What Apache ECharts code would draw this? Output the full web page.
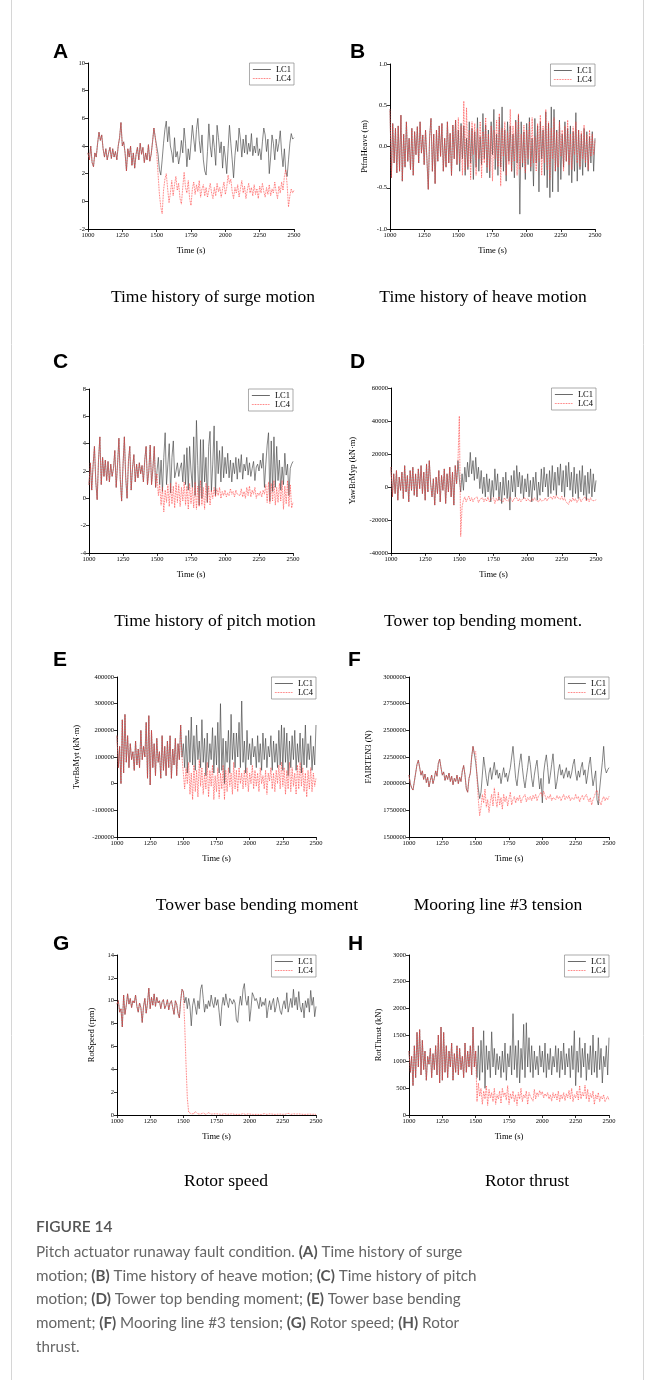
<!DOCTYPE html>
<html><head><meta charset="utf-8">
<script src="https://cdn.jsdelivr.net/npm/echarts@6/dist/echarts.min.js"></script>
<style>html,body{margin:0;padding:0;background:#fff}#c{width:656px;height:1380px}</style>
</head><body><div id="c"></div>
<script>
// ---------------- DATA ----------------
const TIME_START = 1000, FAULT_TIME = 1500, STEP = 10;
const xTicks = [1000, 1250, 1500, 1750, 2000, 2250, 2500];
const seriesNames = ['LC1', 'LC4'];

// (A) surge (m)  — before fault both cases identical
const surgePre = [3.5,3.0,4.0,2.8,2.5,3.5,3.2,4.2,5.0,4.4,4.8,3.8,3.2,3.8,3.0,3.5,3.9,3.1,3.8,3.2,3.6,3.0,4.0,4.6,5.7,4.0,4.3,3.5,2.2,3.8,3.2,4.0,2.6,3.5,2.4,3.4,3.9,3.0,4.2,3.4,3.9,2.8,3.5,3.0,4.1,2.9,3.4,4.3,5.3,4.6];
const surgeLC1 = [4.5,3.4,2.3,1.9,3.0,4.2,5.2,5.8,4.3,5.4,4.0,3.5,2.8,4.6,3.2,3.6,2.7,3.3,4.4,3.5,5.3,4.2,2.5,3.8,3.0,4.2,5.5,4.5,3.6,5.2,6.0,4.4,3.5,4.8,3.0,2.2,1.9,3.6,5.6,4.0,3.2,4.8,3.9,2.6,5.5,4.6,3.5,4.3,2.4,4.0,3.2,2.0,3.8,5.5,4.2,3.0,1.7,3.3,4.4,3.6,5.3,4.5,3.2,4.5,3.5,4.8,3.4,4.2,3.6,4.9,3.3,4.0,3.5,4.6,3.3,3.8,3.0,4.3,5.3,4.8,3.6,4.5,2.0,3.2,4.8,4.2,3.0,4.5,3.6,4.2,5.1,3.5,2.5,3.8,2.2,1.8,3.0,4.2,4.9,4.5,4.6];
const surgeLC4 = [3.5,2.0,0.5,-0.4,-0.9,0.8,1.6,2.0,0.9,-0.1,0.6,1.5,0.4,1.2,1.8,0.8,1.3,0.2,-0.2,1.0,2.1,1.0,0.6,1.5,0.2,-0.3,0.9,1.4,0.5,1.2,0.7,1.5,0.3,0.9,1.2,0.4,1.0,0.3,0.8,1.3,0.6,0.2,1.0,0.4,1.3,0.7,1.0,0.3,0.9,1.4,0.5,1.0,1.9,1.3,1.6,0.7,0.2,1.0,0.6,1.2,0.3,0.9,1.5,0.6,1.1,0.2,0.8,1.3,0.6,1.0,0.4,1.2,0.5,0.9,0.2,1.1,0.6,1.3,0.7,0.3,1.0,0.5,1.2,0.4,0.9,0.6,1.4,0.7,0.2,1.1,0.6,1.4,0.8,1.8,2.3,1.2,-0.4,0.4,0.9,0.6,0.8];

// (B) heave (m)
const heavePre = [0.45,-0.38,0.28,-0.2,0.22,-0.32,0.25,-0.3,0.38,-0.42,0.15,-0.25,0.3,-0.18,0.1,-0.28,0.22,-0.35,0.18,-0.1,0.24,-0.2,0.3,-0.08,0.14,-0.22,0.2,-0.15,-0.52,0.12,0.34,-0.3,0.15,-0.45,0.2,-0.18,0.25,-0.12,0.28,-0.3,0.1,-0.25,0.3,-0.2,0.16,-0.35,0.26,-0.15,0.32,-0.22];
const heaveLC1 = [0.2,-0.3,0.28,-0.15,0.25,-0.35,0.1,-0.28,0.3,-0.2,0.22,-0.4,0.18,-0.25,0.35,-0.3,0.12,-0.22,0.4,-0.15,0.26,-0.32,0.2,-0.38,0.3,-0.1,0.45,-0.28,0.15,-0.35,0.36,-0.25,0.48,-0.3,0.2,-0.42,0.3,-0.18,0.25,-0.3,0.15,-0.38,0.32,-0.2,0.38,-0.82,0.3,-0.25,0.18,-0.4,0.28,-0.22,0.35,-0.3,0.1,-0.48,0.34,-0.2,0.25,-0.55,0.3,-0.15,0.2,-0.35,0.42,-0.5,0.28,-0.62,0.48,-0.55,0.45,-0.3,0.2,-0.55,0.32,-0.4,0.15,-0.25,0.3,-0.18,0.22,-0.35,0.25,-0.44,0.18,-0.3,0.41,-0.42,0.2,-0.28,0.15,-0.35,0.22,-0.25,0.18,-0.3,0.12,-0.2,0.18,-0.3,0.1];
const heaveLC4 = [0.35,-0.2,0.25,-0.35,0.55,-0.3,0.47,-0.25,0.2,-0.4,0.3,-0.1,0.28,-0.35,0.22,-0.15,0.3,-0.38,0.18,-0.2,0.35,-0.25,0.15,-0.3,0.25,-0.42,0.2,-0.15,0.32,-0.25,0.4,-0.48,0.22,-0.12,0.3,-0.35,0.18,-0.22,0.45,-0.3,0.25,-0.18,0.3,-0.35,0.4,-0.28,0.15,-0.2,0.26,-0.32,0.2,-0.15,0.3,-0.25,0.35,-0.2,0.12,-0.3,0.28,-0.18,0.38,-0.35,0.25,-0.2,0.45,-0.28,0.3,-0.4,0.22,-0.15,0.35,-0.3,0.18,-0.25,0.3,-0.12,0.2,-0.3,0.25,-0.18,0.32,-0.22,0.15,-0.28,0.24,-0.1,0.3,-0.2,0.2,-0.25,0.18,-0.15,0.26,-0.2,0.14,-0.28,0.2,-0.12,0.15,-0.1,0.08];

// (C) pitch (deg)
const pitchPre = [1.0,2.6,0.6,2.4,3.8,1.2,-0.1,2.8,4.5,1.0,3.0,1.6,2.8,1.3,2.7,1.2,2.5,1.6,2.2,3.5,0.8,2.5,4.4,1.4,-0.2,2.4,4.5,1.5,0.0,2.7,3.8,0.6,2.2,3.2,1.2,2.5,1.5,2.6,1.8,2.4,1.2,2.8,3.8,1.0,2.0,3.9,1.0,2.2,3.8,0.8];
const pitchLC1 = [2.0,3.0,1.0,2.8,0.5,3.0,4.8,1.0,2.5,4.0,0.4,3.0,4.2,1.5,2.0,2.6,1.6,2.2,2.6,1.2,3.2,1.0,3.7,0.6,3.8,2.0,0.8,4.5,0.2,5.7,2.4,-0.5,4.3,0.0,4.3,1.2,3.0,-0.3,3.8,4.9,0.5,2.5,5.3,0.2,4.2,1.8,3.5,1.2,3.8,1.5,3.0,1.8,3.3,1.5,2.8,1.2,2.6,1.8,3.0,1.4,2.9,1.9,3.2,1.4,2.5,2.0,3.0,1.7,2.6,1.6,2.2,2.7,1.3,2.3,2.5,2.0,2.8,2.2,3.3,0.8,2.5,3.9,4.8,-0.2,4.2,0.5,4.5,0.8,3.8,1.3,2.8,0.6,2.3,1.0,3.3,1.7,2.5,0.2,2.2,2.5,2.7];
const pitchLC4 = [1.8,0.2,1.0,-0.5,0.8,-1.0,0.6,-0.3,1.0,-0.6,1.1,-0.4,0.9,-0.7,1.2,-0.3,1.0,-0.6,0.8,-0.2,1.2,-0.5,0.9,-0.8,1.1,-0.4,0.8,-0.7,1.2,-0.8,0.9,-0.6,1.3,-0.5,0.8,-0.8,1.1,-0.3,0.9,-0.5,0.6,0.0,0.8,0.1,0.7,0.2,0.8,0.0,0.5,0.2,0.6,0.1,0.4,0.2,0.7,0.3,0.5,0.1,0.6,0.3,0.4,0.2,0.7,0.1,0.5,0.0,0.8,0.2,0.9,0.1,0.6,0.3,0.8,0.0,0.4,0.2,0.5,0.1,0.6,0.3,1.0,-0.3,1.2,-0.4,1.1,-0.2,1.3,-0.5,0.8,-0.3,1.1,-0.2,1.3,-0.8,0.9,-0.4,1.3,-0.6,1.0,-0.7,-0.3];

// (D) YawBrMyp (kN·m)
const yawPre = [12000,-6000,8000,-4000,10000,-8000,6000,-2000,9000,-7000,13000,-3000,7000,-9000,10000,-2000,12000,-5000,8000,-6000,11000,-1000,13000,-4000,9000,-8000,14000,-3000,16000,2000,-6000,5000,-11000,6000,-4000,10000,-9000,7000,-2000,11000,-10000,8000,-3000,12000,-6000,9000,-11000,13000,2000,16000];
const yawLC1 = [5000,-3000,8000,-2000,12000,3000,15000,6000,21000,8000,16000,4000,18000,5000,12000,-1000,10000,-4000,6000,-6000,8000,-3000,5000,-9000,4000,-6000,11000,-2000,8000,-8000,3000,-10000,6000,-5000,9000,-7000,4000,-14000,7000,-3000,10000,-6000,13000,0,9000,-4000,7000,-7000,5000,-3000,8000,-6000,4000,-9000,6000,-2000,9000,-8000,3000,-5000,11000,-3000,12000,0,8000,-6000,10000,-4000,13000,-2000,9000,-5000,12000,1000,14000,-3000,10000,-6000,13000,0,15000,-2000,9000,-6000,12000,-4000,8000,-7000,10000,-3000,13000,-5000,7000,-8000,9000,-4000,11000,-6000,8000,-3000,4000];
const yawLC4 = [43000,-30000,-12000,-8000,-6000,-9000,-7000,-5500,-8500,-6500,-9000,-7000,-8000,-6000,-9500,-7500,-8000,-6500,-9000,-7000,-8500,-6000,-9000,-7500,-8000,-6500,-10000,-7000,-8500,-6000,-8000,-7500,-9000,-6500,-8000,-7000,-8500,-6000,-7500,-9000,-7000,-8000,-6500,-8500,-7000,-9000,-7500,-8000,-6500,-8500,-7000,-8000,-9000,-7000,-8500,-6500,-8000,-7500,-9000,-7000,-8500,-7500,-8000,-6500,-8500,-7000,-8000,-6000,-7500,-5500,-7000,-5000,-6500,-6000,-7500,-5500,-8000,-6500,-9000,-8000,-10500,-7500,-9000,-6500,-8500,-7000,-9500,-8000,-6500,-9000,-7500,-8000,-6000,-8500,-7000,-9000,-6500,-8000,-7000,-8500,-7500];

// (E) TwrBsMyt (kN·m)
const twrPre = [180000,60000,140000,0,240000,40000,260000,80000,180000,60000,150000,90000,120000,50000,160000,70000,130000,60000,200000,90000,140000,100000,230000,20000,255000,-5000,200000,60000,150000,30000,170000,80000,120000,20000,180000,50000,140000,30000,160000,60000,180000,20000,130000,70000,170000,30000,150000,90000,220000,100000];
const twrLC1 = [150000,60000,180000,40000,200000,80000,250000,70000,180000,50000,220000,90000,160000,60000,240000,80000,170000,30000,190000,60000,150000,90000,210000,40000,180000,70000,230000,40000,300000,50000,170000,0,160000,80000,200000,40000,260000,90000,190000,60000,190000,100000,230000,60000,310000,80000,160000,40000,200000,90000,150000,70000,170000,100000,140000,60000,180000,80000,150000,50000,190000,90000,170000,60000,140000,100000,180000,50000,160000,80000,150000,60000,200000,70000,220000,50000,210000,80000,190000,30000,160000,60000,180000,90000,200000,50000,150000,80000,190000,40000,170000,70000,220000,60000,150000,90000,180000,50000,140000,70000,220000];
const twrLC4 = [100000,-20000,60000,0,80000,-40000,40000,-60000,70000,-30000,50000,-50000,90000,-10000,60000,-40000,40000,-20000,80000,-50000,50000,-10000,70000,-60000,30000,-30000,60000,-55000,40000,-20000,70000,-60000,50000,-30000,60000,-10000,40000,-40000,80000,-20000,50000,-30000,60000,0,40000,-20000,50000,-10000,60000,-30000,40000,0,70000,-20000,50000,-10000,40000,-30000,60000,0,30000,-20000,50000,-40000,40000,10000,60000,-20000,40000,-30000,50000,0,70000,-20000,80000,-10000,60000,-40000,50000,-20000,80000,-30000,60000,-10000,40000,-40000,70000,-20000,80000,-10000,60000,-30000,40000,-50000,50000,-20000,60000,-30000,40000,-10000,20000];

// (F) FAIRTEN3 (N)
const fairPre = [2080000,2000000,1960000,1940000,2020000,2100000,2180000,2220000,2150000,2080000,2120000,2040000,2090000,2010000,2060000,1970000,2030000,2080000,2000000,2050000,2120000,2070000,2190000,2230000,2150000,2080000,2110000,2030000,2080000,2040000,2100000,2020000,2070000,1990000,2050000,2020000,2080000,2000000,2060000,2020000,2120000,2170000,2080000,1950000,1920000,2050000,2100000,2250000,2350000,2280000];
const fairLC1 = [2200000,2080000,1950000,1860000,1920000,2080000,2250000,2150000,2050000,1980000,2100000,2150000,2040000,2120000,2200000,2080000,2130000,2050000,2100000,2000000,2080000,2150000,2060000,2100000,2020000,2090000,2150000,2250000,2350000,2200000,2050000,1980000,2100000,2200000,2280000,2150000,2040000,1960000,2060000,2150000,2260000,2180000,2050000,1970000,2080000,2160000,2220000,2080000,1950000,2050000,1820000,2100000,2200000,2270000,2150000,2000000,2080000,2180000,2280000,2120000,1950000,2020000,2120000,2180000,2080000,2130000,2050000,2100000,2150000,2060000,2120000,2050000,2100000,2180000,2230000,2100000,2030000,2120000,2060000,2150000,2200000,2080000,2130000,2000000,2080000,2180000,2250000,2100000,1980000,2050000,2120000,1850000,1800000,1950000,2080000,2200000,2350000,2150000,2100000,2130000,2150000];
const fairLC4 = [2300000,2050000,1850000,1700000,1780000,1900000,1820000,1950000,1780000,1850000,1730000,1830000,1900000,1790000,1960000,1850000,1780000,1920000,1800000,1870000,1760000,1900000,1830000,1880000,1790000,1860000,1920000,1800000,1850000,1880000,1820000,1870000,1840000,1890000,1820000,1860000,1850000,1900000,1830000,1870000,1850000,1880000,1840000,1890000,1860000,1900000,1840000,1880000,1870000,1920000,1880000,1930000,1890000,1850000,1880000,1860000,1900000,1840000,1870000,1880000,1850000,1890000,1860000,1880000,1840000,1870000,1900000,1850000,1880000,1860000,1890000,1840000,1870000,1880000,1850000,1900000,1860000,1880000,1830000,1870000,1890000,1850000,1880000,1900000,1860000,1830000,1870000,1800000,1850000,1880000,1920000,1940000,1880000,1830000,1800000,1850000,1880000,1840000,1870000,1850000,1880000];

// (G) RotSpeed (rpm)
const speedPre = [9.7,10.0,9.0,9.3,7.7,10.5,8.8,9.6,10.6,9.7,10.2,9.4,10.0,9.8,10.5,9.5,9.0,9.8,9.4,8.1,9.5,10.2,8.9,9.8,11.1,9.3,10.3,9.6,10.6,9.5,10.3,9.8,10.0,9.3,9.9,10.1,9.3,9.6,10.1,9.2,9.8,10.0,9.4,8.8,10.0,9.7,8.9,8.5,10.0,11.0];
const speedLC1 = [10.8,9.8,10.3,9.3,10.2,9.5,7.8,9.6,10.2,9.5,8.8,10.0,9.3,11.0,11.4,10.2,9.0,9.7,9.3,10.0,9.5,10.5,9.8,9.4,10.3,9.6,10.1,9.0,7.8,9.5,10.3,9.6,10.6,9.9,9.4,10.2,10.0,9.7,10.1,9.8,8.3,8.1,9.5,10.4,9.6,11.0,11.5,10.1,9.6,10.4,8.2,9.3,10.7,10.4,10.0,10.2,9.8,9.3,10.3,9.5,9.9,9.6,10.2,8.5,9.4,10.0,9.2,9.8,10.2,9.0,9.5,10.3,9.8,9.1,8.8,9.6,10.0,9.3,10.7,9.0,9.6,10.2,9.4,11.0,9.6,10.3,9.2,10.8,9.5,9.0,9.8,8.5,10.0,9.4,10.2,9.0,10.9,9.6,10.3,8.6,9.5];
const speedLC4 = [10.8,8.0,4.5,1.5,0.25,0.15,0.1,0.2,0.12,0.3,0.15,0.1,0.2,0.08,0.12,0.18,0.1,0.05,0.12,0.2,0.1,0.08,0.15,0.1,0.05,0.1,0.12,0.08,0.1,0.05,0.08,0.12,0.1,0.06,0.1,0.08,0.05,0.1,0.07,0.05,0.1,0.06,0.08,0.05,0.1,0.12,0.06,0.05,0.08,0.1,0.05,0.07,0.1,0.05,0.08,0.06,0.1,0.05,0.07,0.05,0.1,0.12,0.08,0.05,0.06,0.1,0.05,0.08,0.06,0.05,0.1,0.07,0.05,0.08,0.1,0.06,0.05,0.07,0.1,0.15,0.08,0.05,0.06,0.1,0.05,0.08,0.06,0.1,0.05,0.07,0.08,0.05,0.1,0.06,0.05,0.08,0.1,0.06,0.05,0.07,0.05];

// (H) RotThrust (kN)
const thrustPre = [1200,800,1100,550,1300,700,1550,900,1600,750,1400,850,1200,650,1100,950,1250,700,1150,850,1300,750,1500,600,1650,650,1550,800,1300,700,1200,900,1350,650,1150,800,1300,750,1250,850,1100,700,1350,800,1200,900,1300,750,1650,900];
const thrustLC1 = [1200,700,1300,650,1400,800,1580,500,1300,850,1200,700,1560,900,1250,750,1150,850,1100,700,1200,800,1350,650,1150,900,1300,750,1900,850,1300,700,1400,600,1250,850,1700,700,1730,900,1450,800,1300,700,1200,850,1100,750,1300,900,1200,800,1350,700,1150,850,1250,750,1100,900,1300,800,1250,700,1200,850,1350,750,1150,900,1250,700,1300,850,1580,550,1200,800,1450,700,1250,900,1350,650,1150,850,1300,750,1500,800,1200,700,1450,850,1250,600,1100,900,1300,750,1450];
const thrustLC4 = [1200,250,600,350,500,200,450,300,550,180,480,320,420,250,500,200,380,300,450,220,500,350,420,280,550,200,400,300,450,250,380,180,420,300,500,250,380,320,450,200,420,350,380,260,480,300,420,350,460,380,440,320,400,350,420,300,380,260,420,320,400,280,450,250,380,300,420,270,400,320,460,300,500,250,380,320,450,280,550,300,420,350,560,300,480,250,400,320,450,200,380,300,420,250,350,300,380,250,300,350,280];

// ---------------- LAYOUT ----------------
const SERIF = '"Liberation Serif","Times New Roman",serif';
const SANS = '"Liberation Sans",Arial,sans-serif';
const panels = [
  {letter:'A', lx:53, ly:42, box:[88,63,294,229], y:[-2,10,2], yName:'', yGap:0, dec:0, sub:'Time history of surge motion', sx:213, sy:297, pre:surgePre, lc1:surgeLC1, lc4:surgeLC4},
  {letter:'B', lx:350, ly:42, box:[390,64,595,229], y:[-1,1,0.5], yName:'PtfmHeave (m)', yGap:21, dec:1, sub:'Time history of heave motion', sx:483, sy:297, pre:heavePre, lc1:heaveLC1, lc4:heaveLC4},
  {letter:'C', lx:53, ly:352, box:[89,389,293,553], y:[-4,8,2], yName:'', yGap:0, dec:0, sub:'Time history of pitch motion', sx:215, sy:621, pre:pitchPre, lc1:pitchLC1, lc4:pitchLC4},
  {letter:'D', lx:350, ly:352, box:[391,388,596,553], y:[-40000,60000,20000], yName:'YawBrMyp (kN\u00b7m)', yGap:34, dec:0, sub:'Tower top bending moment.', sx:483, sy:621, pre:yawPre, lc1:yawLC1, lc4:yawLC4},
  {letter:'E', lx:53, ly:650, box:[117,677,316,837], y:[-200000,400000,100000], yName:'TwrBsMyt (kN\u00b7m)', yGap:36, dec:0, sub:'Tower base bending moment', sx:257, sy:905, pre:twrPre, lc1:twrLC1, lc4:twrLC4},
  {letter:'F', lx:348, ly:650, box:[409,677,609,837], y:[1500000,3000000,250000], yName:'FAIRTEN3 (N)', yGap:36, dec:0, sub:'Mooring line #3 tension', sx:498, sy:905, pre:fairPre, lc1:fairLC1, lc4:fairLC4},
  {letter:'G', lx:53, ly:934, box:[117,955,316,1115], y:[0,14,2], yName:'RotSpeed (rpm)', yGap:21, dec:0, sub:'Rotor speed', sx:226, sy:1181, pre:speedPre, lc1:speedLC1, lc4:speedLC4},
  {letter:'H', lx:348, ly:934, box:[409,955,609,1115], y:[0,3000,500], yName:'RotThrust (kN)', yGap:26, dec:0, sub:'Rotor thrust', sx:527, sy:1181, pre:thrustPre, lc1:thrustLC1, lc4:thrustLC4}
];

const LC1_COLOR = '#444', LC4_COLOR = '#ff4040';
function toPairs(arr, t0) { return arr.map((v, i) => [t0 + STEP * i, v]); }

const grid = [], xAxis = [], yAxis = [], series = [], legend = [], graphic = [];
panels.forEach((p, i) => {
  const [l, t, r, b] = p.box;
  grid.push({left:l, top:t, width:r-l, height:b-t, containLabel:false, outerBoundsMode:'none', show:false});
  xAxis.push({
    type:'value', gridIndex:i, min:xTicks[0], max:xTicks[xTicks.length-1], interval:250,
    name:'Time (s)', nameLocation:'middle', nameGap:17,
    nameTextStyle:{fontFamily:SERIF, fontSize:8.5, color:'#000'},
    axisLine:{show:true, onZero:false, lineStyle:{color:'#000', width:1}},
    axisTick:{show:true, inside:false, length:3, lineStyle:{color:'#000', width:0.8}},
    axisLabel:{fontFamily:SERIF, fontSize:6.5, color:'#000', margin:3, formatter:v=>String(v)},
    splitLine:{show:false}
  });
  yAxis.push({
    type:'value', gridIndex:i, min:p.y[0], max:p.y[1], interval:p.y[2],
    name:p.yName, nameLocation:'middle', nameGap:p.yGap, nameRotate:90,
    nameTextStyle:{fontFamily:SERIF, fontSize:8.5, color:'#000'},
    axisLine:{show:true, onZero:false, lineStyle:{color:'#000', width:1}},
    axisTick:{show:true, inside:false, length:3, lineStyle:{color:'#000', width:0.8}},
    axisLabel:{fontFamily:SERIF, fontSize:6.5, color:'#000', margin:3, formatter:v=>p.dec ? v.toFixed(p.dec) : String(v)},
    splitLine:{show:false}
  });
  const d1 = toPairs(p.pre, TIME_START).concat(toPairs(p.lc1, FAULT_TIME));
  const d4 = toPairs(p.pre, TIME_START).concat(toPairs(p.lc4, FAULT_TIME));
  series.push({type:'line', name:seriesNames[0], xAxisIndex:i, yAxisIndex:i, data:d1, symbol:'none', showSymbol:false,
    lineStyle:{color:LC1_COLOR, width:0.65}, itemStyle:{color:LC1_COLOR}, z:2, silent:true, animation:false, emphasis:{disabled:true}});
  series.push({type:'line', name:seriesNames[1], xAxisIndex:i, yAxisIndex:i, data:d4, symbol:'none', showSymbol:false,
    lineStyle:{color:LC4_COLOR, width:0.8, type:'dotted'}, itemStyle:{color:LC4_COLOR}, z:3, silent:true, animation:false, emphasis:{disabled:true}});
  legend.push({
    data:seriesNames, orient:'vertical', right:656 - r, top:t, itemWidth:18, itemHeight:8, itemGap:0,
    itemStyle:{opacity:0, borderWidth:0}, lineStyle:{width:0.8},
    padding:[2,3,2,3], borderColor:'#888', borderWidth:0.7, backgroundColor:'#fff', selectedMode:false,
    textStyle:{fontFamily:SERIF, fontSize:8.5, color:'#000'}
  });
  graphic.push({type:'text', x:p.lx, y:p.ly, style:{text:p.letter, font:'bold 21px ' + SANS, fill:'#000', textAlign:'left', textVerticalAlign:'top'}});
  graphic.push({type:'text', x:p.sx, y:p.sy, style:{text:p.sub, font:'17.5px ' + SERIF, fill:'#000', textAlign:'center', textVerticalAlign:'middle'}});
});

// caption
const CAP = '"Lato","Open Sans",sans-serif';
graphic.push({type:'rect', shape:{x:11.5, y:-5, width:632, height:1400}, style:{fill:'none', stroke:'#d6d6d6', lineWidth:1}, z:-1});
graphic.push({type:'text', x:36, y:1227, style:{text:'FIGURE 14', font:'600 15.5px ' + CAP, fill:'#555', textVerticalAlign:'middle'}});
const capLines = [
  'Pitch actuator runaway fault condition. {b|(A)} Time history of surge',
  'motion; {b|(B)} Time history of heave motion; {b|(C)} Time history of pitch',
  'motion; {b|(D)} Tower top bending moment; {b|(E)} Tower base bending',
  'moment; {b|(F)} Mooring line #3 tension; {b|(G)} Rotor speed; {b|(H)} Rotor',
  'thrust.'
];
capLines.forEach((s, k) => {
  graphic.push({type:'text', x:36, y:1252 + k * 23.7, style:{text:s, font:'15.2px ' + CAP, fill:'#666', textVerticalAlign:'middle',
    rich:{b:{fontFamily:CAP, fontSize:15.2, fontWeight:'bold', fill:'#555'}}}});
});

const chart = echarts.init(document.getElementById('c'), null, {renderer:'canvas', width:656, height:1380});
chart.setOption({animation:false, backgroundColor:'#fff', grid, xAxis, yAxis, series, legend, graphic});
</script></body></html>
